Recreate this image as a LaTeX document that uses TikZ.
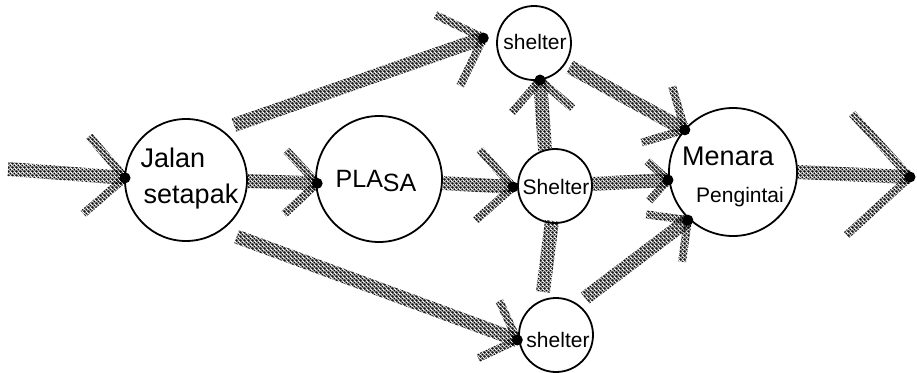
\documentclass[tikz,border=0pt]{standalone}
\usepackage{fontspec}
\setmainfont{Liberation Sans}
\usetikzlibrary{calc,patterns}
\pgfdeclarepatternformonly{checker}{\pgfpointorigin}{\pgfpoint{4pt}{4pt}}{\pgfpoint{4pt}{4pt}}{%
  \pgfpathcircle{\pgfpoint{1pt}{1pt}}{1.3pt}%
  \pgfpathcircle{\pgfpoint{3pt}{3pt}}{1.3pt}%
  \pgfpathcircle{\pgfpoint{3pt}{-1pt}}{1.3pt}%
  \pgfpathcircle{\pgfpoint{-1pt}{3pt}}{1.3pt}%
  \pgfpathcircle{\pgfpoint{5pt}{1pt}}{1.3pt}%
  \pgfpathcircle{\pgfpoint{1pt}{5pt}}{1.3pt}%
  \pgfusepath{fill}}
\newcommand\pband[3]{%
  \fill[pattern=checker] ($(#1)!#3!90:(#2)$) -- ($(#1)!#3!-90:(#2)$) -- ($(#2)!#3!90:(#1)$) -- ($(#2)!#3!-90:(#1)$) -- cycle;}
\newcommand\parrow[3]{%
  \coordinate (pS) at (#1);
  \coordinate (pT) at (#2);
  \pband{pS}{pT}{7pt}
  \coordinate (pE1) at ($(pT)!#3!45:(pS)$);
  \coordinate (pE2) at ($(pT)!#3!-45:(pS)$);
  \pband{pT}{pE1}{4pt}
  \pband{pT}{pE2}{4pt}
  \fill (pT) circle[radius=5.5pt];}
\tikzset{
  place/.style={circle, draw, line width=1.8pt, inner sep=0pt},
  hand/.style={font=\fontsize{25}{27}\selectfont, inner sep=0pt}
}
\begin{document}
\begin{tikzpicture}[x=1pt,y=-1pt]
\useasboundingbox (0,0) rectangle (917,372);
% places
\node[place, minimum size=122pt] (J) at (186,180) {};
\node[place, minimum size=126pt] (P) at (379,179) {};
\node[place, minimum size=74pt] (T) at (534,43) {};
\node[place, minimum size=74pt] (M) at (555,186) {};
\node[place, minimum size=74pt] (B) at (556,335) {};
\node[place, minimum size=128pt] (W) at (733,172) {};
% labels
\node[hand, font=\fontsize{27}{30}\selectfont] (tJ1) at (173,158) {Jalan};
\node[hand, font=\fontsize{27}{30}\selectfont] (tJ2) at (191,197) {setapak};
\node[hand] (tP) at (376,181) {PLA\raisebox{-0.35ex}{SA}};
\node[hand, font=\fontsize{21}{24}\selectfont] (tT) at (535,42) {shelter};
\node[hand, font=\fontsize{21}{24}\selectfont] (tM) at (556,187) {Shelter};
\node[hand, font=\fontsize{21}{24}\selectfont] (tB) at (558,340) {shelter};
\node[hand, font=\fontsize{27}{30}\selectfont] (tW1) at (728,156) {Menara};
\node[hand, font=\fontsize{21}{24}\selectfont] (tW2) at (740,197) {Pengintai};
% free ends
\coordinate (in) at (8,169);
\coordinate (out) at (910,177);
% connectors
\parrow{in}{[shift={(178:61pt)}]J.center}{55pt}
\parrow{[shift={(-1:62pt)}]J.center}{[shift={(184:62pt)}]P.center}{45pt}
\parrow{[shift={(48.9:73pt)}]J.center}{[shift={(174.4:51pt)}]T.center}{53pt}
\parrow{[shift={(-48.2:76pt)}]J.center}{[shift={(187.3:39pt)}]B.center}{43pt}
\parrow{[shift={(-3.6:64pt)}]P.center}{[shift={(181.4:42pt)}]M.center}{50pt}
\parrow{[shift={(105.5:37pt)}]M.center}{[shift={(-80.8:37.5pt)}]T.center}{43pt}
\pband{[shift={(265:35pt)}]M.center}{[shift={(106.8:45pt)}]B.center}{7pt}
\parrow{[shift={(-33.7:43pt)}]T.center}{[shift={(138.8:64pt)}]W.center}{45pt}
\parrow{[shift={(3.1:37pt)}]M.center}{[shift={(187:65.5pt)}]W.center}{28pt}
\parrow{[shift={(51.9:47pt)}]B.center}{[shift={(226.8:66pt)}]W.center}{42pt}
\parrow{[shift={(0:64pt)}]W.center}{out}{86pt}
\end{tikzpicture}
\end{document}
